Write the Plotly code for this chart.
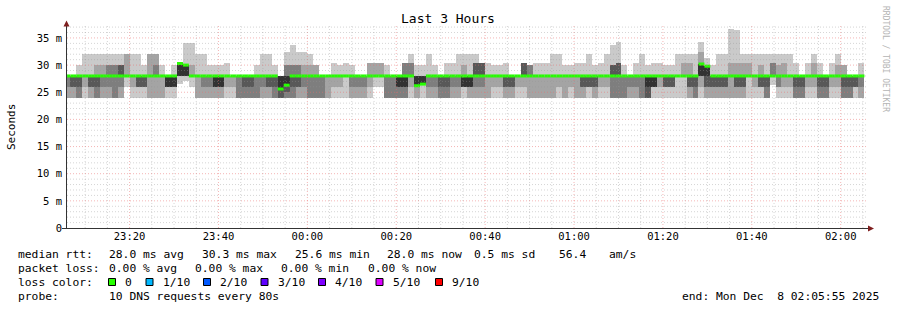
import datetime as dt
import plotly.graph_objects as go

# ---------------- data ----------------
step_seconds = 80
first_step_end = "2025-12-07 23:06:40"
range_start = "2025-12-07 23:05:55"
range_end = "2025-12-08 02:05:55"

# sorted round-trip times (ms) of the 10 DNS requests in each 80 s step
rtt_p1 = [24,24,24,24,24,24,24,24,24,24, 26,24,24,24,24,24,24,24,24,26.5,
          27,26,24,24,24,24,24,24,24,24, 24,24,24,24,24,24,24,24,24,24,
          24,24,24,24,24,24,24,24,24,24, 24,24,26,26,24,24,24,24,24,24,
          24,24,24,24,24,24,24,24,24,24, 24,24,24,24,24,24,24,24,24,24,
          24,24,24,24,24,24,24,24,24,24, 24,24,24,24,24,24,24,24,24,24,
          24,24,24,24,24,24,24,24,24,24, 24,24,24,24,24,24,24,24,24,26.3,
          24,24,24,24,24,24,24,24,24,24, 24,24,24,24,24]
rtt_p2 = [24,24,24,26,24,24,24,24,24,24, 28,26,26,26,24,24,24,26,26,28,
          28,28,24,24,24,24,24,26,26,24, 24,24,24,24,24,24,24,24,24,24,
          24,24,24,24,24,26,26,28,24,24, 24,26,28,28,24,24,24,24,26,24,
          26.5,24,24,24,24,24,24,26,24,24, 24,24,26,26,24,24,26,26,24,24,
          24,24,24,26,24,26,24,24,26,24, 26,26,24,24,24,24,24,24,24,26,
          26,26,26,28,28,24,24,26,24,24, 24,24,24,24,24,28,26,26,24,28,
          26,26,26,24,24,26,26,24,24,26, 26,24,24,26,24]
rtt_p3 = [26,26,24,28,26,24,26,26,24,26, 28,28,26,26,28,28,28,26,26,28,
          28,28,28,26,26,26,26,28,28,24, 24,24,24,26,26,24,24,24,24,26,
          26,24,24,24,28,28,28,28,26,26, 26,28,28,28,24,24,24,24,28,26.2,
          26.5,26,26,24,24,26,26,26,26,26, 26,28,28,28,26,26,28,28,28,28,
          28,28,28,28,28,28,28,26,26,26, 28,28,24,24,24,26,26,24,24,26,
          28,26,26,28,28,26,24,28,26,26, 26,26,28,26,26,28,28,26,24,28,
          26,28,28,24,24,28,28,24,24,28, 28,24,24,26,26]
rtt_p4 = [28,26,26,28,26,26,28,28,28,28, 28,28,26,26,28,28,28,26,26,28,
          28,28,28,28,28,26,26,28,28,28, 26,26,28,28,26,26,24,25,26,26,
          28,28,28,28,28,28,28,28,28,28, 28,28,28,28,28,28,26,26,28,26.2,
          26.5,28,28,26,26,28,28,26,26,28, 28,28,28,28,26,26,28,28,28,28,
          28,28,28,28,28,28,28,26,26,26, 28,28,28,28,28,28,28,28,24,26,
          28,26,26,28,28,26,26,28,26,26, 26,26,28,26,26,28,28,26,26,28,
          28,28,28,26,26,28,28,26,26,28, 28,26,26,26,28]
rtt_p5 = [28,28,28,28,28,28,28,28,28,28, 28,28,28,28,28,28,28,26,26,28,
          28,28,28,28,28,26,26,28,28,28, 28,28,28,28,28,28,25.6,26.3,28,28,
          28,28,28,28,28,28,28,28,28,28, 28,28,28,28,28,28,26,26,28,26.2,
          26.5,28,28,28,28,28,28,26,26,28, 28,28,28,28,28,28,28,28,28,28,
          28,28,28,28,28,28,28,28,28,28, 28,28,28,28,28,28,28,28,26,26,
          28,28,28,28,28,28,28,28,28,28, 28,28,28,28,28,28,28,28,28,28,
          28,28,28,28,28,28,28,28,28,28, 28,28,28,28,28]
rtt_p6 = [28,28,28,28,28,28,28,28,28,28, 28,28,28,28,28,28,28,28,28,30.3,
          30,28,28,28,28,28,28,28,28,28, 28,28,28,28,28,28,28,28,28,28,
          28,28,28,28,28,28,28,28,28,28, 28,28,28,28,28,28,28,28,28,28,
          28,28,28,28,28,28,28,28,28,28, 28,28,28,28,28,28,28,28,28,28,
          28,28,28,28,28,28,28,28,28,28, 28,28,28,28,28,28,28,28,28,28,
          28,28,28,28,28,28,28,30.2,29.8,28, 28,28,28,28,28,28,28,28,28,28,
          28,28,28,28,28,28,28,28,28,28, 28,28,28,28,28]
rtt_p7 = [28,28,28,28,28,28,28,28,28,30, 28,28,28,28,28,28,28,28,28,30.3,
          30,28,28,28,28,28,28,28,28,28, 28,28,28,28,28,28,28,28,28,28,
          28,28,28,28,28,28,28,28,28,28, 28,28,28,28,28,28,28,28,28,28,
          28,28,28,28,28,28,28,28,28,30.4, 30.4,28,28,28,28,28,28,30.4,28,28,
          28,28,28,28,28,28,28,28,28,28, 28,28,30,30.4,28,28,28,28,28,28,
          28,28,28,28,28,28,28,30.2,29.8,28, 28,28,28,28,28,28,28,28,28,28,
          28,28,28,28,28,28,28,28,28,28, 28,28,28,28,28]
rtt_p8 = [28,28,28,28,28,28,28,30,30,30, 28,28,28,28,28,30,28,28,28,30.3,
          30,28,28,28,28,28,28,28,28,28, 28,28,28,28,28,28,28,30,30,30,
          28,28,28,28,28,28,28,28,28,28, 28,28,28,28,28,28,28,30.4,30.4,28,
          28,28,28,28,28,28,28,28,28,30.4, 30.4,28,28,28,28,28,28,30.4,30,28,
          28,28,28,28,28,28,28,28,28,28, 28,28,30,30.4,28,28,28,28,28,28,
          28,28,28,28,28,28,28,30.2,29.8,28, 28,28,28,28,28,28,28,28,28,30.4,
          28,28,28,28,28,28,28,28,28,28, 28,28,28,28,28]
rtt_p9 = [28,28,28,28,28,30,30,30,30,30, 32,28,28,28,32,32,28,28,28,30.3,
          30,30,28,28,28,28,28,28,28,28, 28,28,28,28,28,28,28,30,30,30,
          30,30,30,28,28,28,28,28,28,28, 28,30.4,30.4,30.4,28,28,28,30.4,30.4,28,
          28,28,28,28,28,28,28,30,28,30.4, 30.4,28,28,28,28,28,28,30.4,30,28,
          28,28,28,28,28,28,28,28,28,28, 28,28,30,30.4,28,28,28,28,28,28,
          28,28,28,28,30.4,30.4,28,32.5,29.8,28, 28,28,30.4,30.4,30.4,30.4,28,30,28,30.4,
          30,30.4,28,28,28,28,30.4,28,28,28, 30,30,28,28,28]
rtt_p10 = [28,28,30,32,32,32,32,32,32,32, 32,32,32,30,32,32,30,28,30,30.3,
           34,34,32,32,30,30,30,30.4,28,28, 28,28,30,32,32,30,28,32.4,33.7,32.4,
           32.4,32,30,28,28,30.4,30,30.4,30,28, 28,30.4,30.4,30.4,30,28,28,30.4,32,30,
           30,32,30,28,30.4,30.4,32,32,32,32, 30.4,30.4,30,30,30.4,28,28,30.4,30,30.4,
           30.4,30.4,32,32,30,30,30.4,30.4,32,30, 30.4,32,33.7,34.3,30,28,30.4,32,30,30.4,
           30.4,30,30,32,32,32,32,34.3,31.3,30, 32,32,36.7,36.5,32,32,32,32,32,32,
           32,32,32,30.4,28,30.4,32,30.4,28,30.4, 32,30,28,28,30.4]
median_rtt = [28,28,28,28,28,28,28,28,28,28, 28,28,28,28,28,28,28,28,28,30.3,
              30.0,28,28,28,28,28,28,28,28,28, 28,28,28,28,28,28,25.6,26.3,28,28,
              28,28,28,28,28,28,28,28,28,28, 28,28,28,28,28,28,28,28,28,26.2,
              26.5,28,28,28,28,28,28,28,28,28, 28,28,28,28,28,28,28,28,28,28,
              28,28,28,28,28,28,28,28,28,28, 28,28,28,28,28,28,28,28,28,28,
              28,28,28,28,28,28,28,30.2,29.8,28, 28,28,28,28,28,28,28,28,28,28,
              28,28,28,28,28,28,28,28,28,28, 28,28,28,28,28]

y_tick_values = [0, 5, 10, 15, 20, 25, 30, 35]
y_tick_labels = ["0", "5 m", "10 m", "15 m", "20 m", "25 m", "30 m", "35 m"]
x_first_tick = "2025-12-07 23:20:00"
x_tick_labels = ["23:20", "23:40", "00:00", "00:20", "00:40", "01:00", "01:20", "01:40", "02:00"]

loss_labels = ["0", "1/10", "2/10", "3/10", "4/10", "5/10", "9/10"]
loss_colors = ["#26ff00", "#00b8ff", "#0059ff", "#5e00ff", "#7e00ff", "#dd00ff", "#ff0000"]

title_text = "Last 3 Hours"
y_title = "Seconds"
stats_rtt = ["median rtt:", "28.0 ms avg", "30.3 ms max", "25.6 ms min", "28.0 ms now", "0.5 ms sd", "56.4", "am/s"]
stats_loss = ["packet loss:", "0.00 % avg", "0.00 % max", "0.00 % min", "0.00 % now"]
probe_text = ["probe:", "10 DNS requests every 80s"]
end_text = "end: Mon Dec  8 02:05:55 2025"
watermark = "RRDTOOL / TOBI OETIKER"

# ---------------- layout helpers (pixel -> paper) ----------------
W, H = 897, 310
PL, PR, PT, PB = 67, 867, 26, 228
def pxx(p):
    return (p - PL) / (PR - PL)
def pxy(p):
    return (PB - p) / (PB - PT)

MONO = "DejaVu Sans Mono"
fmt = "%Y-%m-%d %H:%M:%S"
t_first = dt.datetime.strptime(first_step_end, fmt)
n = len(median_rtt)
ends = [t_first + dt.timedelta(seconds=step_seconds * i) for i in range(n)]
starts = [e - dt.timedelta(seconds=step_seconds) for e in ends]
centers = [e - dt.timedelta(seconds=step_seconds / 2) for e in ends]

fig = go.Figure()

ranks = [rtt_p1, rtt_p2, rtt_p3, rtt_p4, rtt_p5, rtt_p6, rtt_p7, rtt_p8, rtt_p9, rtt_p10]
half = len(ranks) / 2
for b in range(1, len(ranks)):
    lo, hi = ranks[b - 1], ranks[b]
    g = int(190 / half * abs(half - b)) + 50
    fig.add_trace(go.Bar(
        x=centers, base=lo, y=[h - l for l, h in zip(lo, hi)],
        width=step_seconds * 1000,
        marker=dict(color=f"rgb({g},{g},{g})", line=dict(width=0)),
        hoverinfo="skip", showlegend=False))

mx, my = [], []
for s, e, m in zip(starts, ends, median_rtt):
    mx += [s, e, None]
    my += [m, m, None]
fig.add_trace(go.Scatter(x=mx, y=my, mode="lines",
                         line=dict(color=loss_colors[0], width=3),
                         hoverinfo="skip", showlegend=False))

x_start = dt.datetime.strptime(range_start, fmt)
x_end = dt.datetime.strptime(range_end, fmt)
x_tick0 = dt.datetime.strptime(x_first_tick, fmt)
x_tick_vals = [x_tick0 + dt.timedelta(minutes=20 * i) for i in range(len(x_tick_labels))]

shapes = []
minor_col = "rgba(150,150,150,0.4)"
major_col = "rgba(235,110,110,0.5)"
dash = "1px,2px"
# vertical grid: every 5 minutes, red every 20
t = x_start.replace(second=0) + dt.timedelta(minutes=5 - x_start.minute % 5)
while t < x_end:
    major = (t.minute % 20 == 0)
    shapes.append(dict(type="line", xref="x", yref="paper", x0=t, x1=t, y0=0, y1=1,
                       line=dict(color=major_col if major else minor_col, width=1, dash=dash),
                       layer="above"))
    t += dt.timedelta(minutes=5)
# horizontal grid: every 1 ms, red every 5
for v in range(1, 38):
    major = (v % 5 == 0)
    shapes.append(dict(type="line", xref="paper", yref="y", x0=0, x1=1, y0=v, y1=v,
                       line=dict(color=major_col if major else minor_col, width=1, dash=dash),
                       layer="above"))

axis_col = "#333333"
arrow_col = "#7f1f1f"
shapes.append(dict(type="line", xref="paper", yref="paper", x0=pxx(66.5), x1=pxx(66.5),
                   y0=pxy(228.5), y1=pxy(25), line=dict(color=axis_col, width=1), layer="above"))
shapes.append(dict(type="line", xref="paper", yref="paper", x0=pxx(62), x1=pxx(869),
                   y0=pxy(228.5), y1=pxy(228.5), line=dict(color=axis_col, width=1), layer="above"))
shapes.append(dict(type="path", xref="paper", yref="paper",
                   path=f"M {pxx(63.5)} {pxy(26.5)} L {pxx(69.5)} {pxy(26.5)} L {pxx(66.5)} {pxy(20.5)} Z",
                   fillcolor=arrow_col, line=dict(width=0), layer="above"))
shapes.append(dict(type="path", xref="paper", yref="paper",
                   path=f"M {pxx(868)} {pxy(225.5)} L {pxx(868)} {pxy(231.5)} L {pxx(874)} {pxy(228.5)} Z",
                   fillcolor=arrow_col, line=dict(width=0), layer="above"))

annotations = []
def text(x, y, s, size=11.3, anchor="left", color="#000000", angle=0):
    annotations.append(dict(xref="paper", yref="paper", x=pxx(x), y=pxy(y), text=s,
                            showarrow=False, xanchor=anchor, yanchor="middle",
                            textangle=angle, font=dict(family=MONO, size=size, color=color)))

text(448, 19, title_text, size=13, anchor="center")
text(11, 127, y_title, size=11, anchor="center", angle=-90)
text(886, 59, watermark, size=8, anchor="center", color="#b4b4b4", angle=90)

for s, x in zip(stats_rtt, [16, 107, 200, 293, 385, 472, 557, 607]):
    text(x, 254, s)
for s, x in zip(stats_loss, [16, 107, 193, 279, 366]):
    text(x, 268, s)
text(16, 282, "loss color:")
sq_x = [108.5, 146, 203.5, 261, 318.5, 376, 435.5]
for lab, col, x in zip(loss_labels, loss_colors, sq_x):
    shapes.append(dict(type="rect", xref="paper", yref="paper",
                       x0=pxx(x), x1=pxx(x + 7), y0=pxy(285.5), y1=pxy(278.5),
                       fillcolor=col, line=dict(color="#000000", width=1)))
    text(x + 14.5, 282, lab)
text(16, 296, probe_text[0])
text(107, 296, probe_text[1])
text(881, 296, end_text, anchor="right")

fig.update_layout(
    width=W, height=H,
    margin=dict(l=PL, r=W - PR, t=PT, b=H - PB),
    paper_bgcolor="white", plot_bgcolor="white",
    barmode="overlay", bargap=0, showlegend=False,
    shapes=shapes, annotations=annotations,
)
fig.update_xaxes(type="date", range=[x_start, x_end], tickvals=x_tick_vals, ticktext=x_tick_labels,
                 showgrid=False, zeroline=False, showline=False, ticks="",
                 tickfont=dict(family=MONO, size=10.5, color="#000000"))
fig.update_yaxes(range=[0, 37.2], tickvals=y_tick_values, ticktext=y_tick_labels,
                 showgrid=False, zeroline=False, showline=False, ticks="",
                 ticklabelstandoff=4,
                 tickfont=dict(family=MONO, size=10.5, color="#000000"))

fig.write_html("out.html")
